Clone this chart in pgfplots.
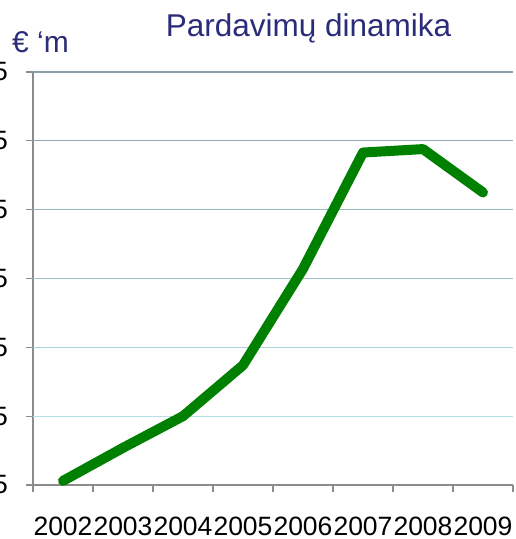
\documentclass[border=0pt]{standalone}
\usepackage{pgfplots}
\pgfplotsset{compat=1.18}
\usepackage{fontspec}
\setmainfont{Liberation Sans}
\definecolor{titleblue}{RGB}{42,44,120}
\definecolor{axgrey}{RGB}{140,140,140}
\definecolor{linegreen}{RGB}{0,128,0}
\definecolor{g6}{RGB}{138,162,168}
\definecolor{g5}{RGB}{143,172,178}
\definecolor{g4}{RGB}{150,185,190}
\definecolor{g3}{RGB}{158,198,203}
\definecolor{g2}{RGB}{166,212,217}
\definecolor{g1}{RGB}{178,226,231}
\begin{document}
\begin{tikzpicture}
\begin{axis}[
  at={(0,0)}, anchor=south west,
  scale only axis, width=480bp, height=413bp,
  xmin=-0.5, xmax=7.5, ymin=0, ymax=6,
  clip=false,
  axis lines=left,
  axis line style={-, draw=axgrey, line width=1.3bp},
  xtick={0,...,7},
  xticklabels={2002,2003,2004,2005,2006,2007,2008,2009},
  ytick={0,...,6},
  yticklabels={5,5,5,5,5,5,5},
  tick align=outside,
  major tick length=7bp,
  ytick style={draw=axgrey, line width=1.3bp},
  xtick style={draw=none},
  extra x ticks={-0.5,0.5,1.5,2.5,3.5,4.5,5.5,6.5,7.5},
  extra x tick labels={},
  extra x tick style={xtick style={draw=axgrey, line width=1.3bp}},
  ticklabel style={font=\fontsize{26.5bp}{30bp}\selectfont, text=black},
  xticklabel style={anchor=north, inner sep=0pt, yshift=-25bp},
  yticklabel style={anchor=east, inner sep=0pt, xshift=-18bp},
]
\draw[g1, line width=1.3bp] (axis cs:-0.5,1) -- (axis cs:7.5,1);
\draw[g2, line width=1.3bp] (axis cs:-0.5,2) -- (axis cs:7.5,2);
\draw[g3, line width=1.3bp] (axis cs:-0.5,3) -- (axis cs:7.5,3);
\draw[g4, line width=1.3bp] (axis cs:-0.5,4) -- (axis cs:7.5,4);
\draw[g5, line width=1.3bp] (axis cs:-0.5,5) -- (axis cs:7.5,5);
\draw[g6, line width=1.3bp] (axis cs:-0.5,6) -- (axis cs:7.5,6);
\addplot[linegreen, line width=10bp, line cap=round, line join=round] coordinates {
  (0,0.06) (1,0.54) (2,1.0) (3,1.74) (4,3.14) (5,4.83) (6,4.88) (7,4.25)
};
\end{axis}
\node[anchor=base, text=titleblue, font=\fontsize{31.5bp}{36bp}\selectfont, inner sep=0pt] at (275.5bp,448bp) {Pardavimų dinamika};
\node[anchor=base west, text=titleblue, font=\fontsize{30bp}{34bp}\selectfont, inner sep=0pt] at (-21bp,432bp) {€ ‘m};
\pgfresetboundingbox
\useasboundingbox (-33bp,-54bp) rectangle (483bp,485bp);
\end{tikzpicture}
\end{document}
